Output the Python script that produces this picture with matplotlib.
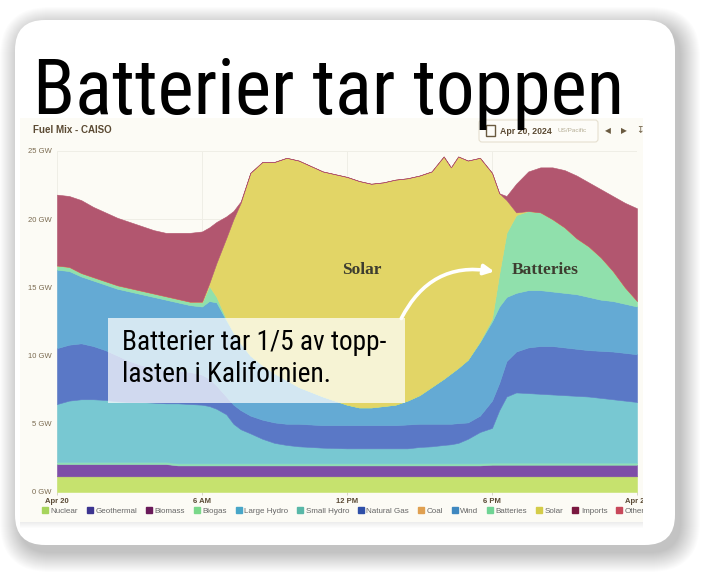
import os
import math
import matplotlib
matplotlib.use("Agg")
import matplotlib.pyplot as plt
from matplotlib import font_manager
from matplotlib.font_manager import FontProperties
from matplotlib.textpath import TextPath
from matplotlib.patches import FancyBboxPatch, Rectangle, FancyArrowPatch
from matplotlib.lines import Line2D
from matplotlib.transforms import Bbox, TransformedBbox

W, H = 710, 578

# hours after midnight, Apr 20 2024
hours = [0, 0.5, 1, 1.5, 2, 2.5, 3, 3.5, 4, 4.5, 5, 5.5, 6, 6.3, 6.6, 7, 7.3, 7.6,
         8, 8.5, 9, 9.5, 10, 11, 12, 12.5, 13, 13.5, 14, 14.5, 15, 15.5, 16, 16.3,
         16.6, 17, 17.5, 18, 18.3, 18.6, 19, 19.5, 20, 20.5, 21, 21.5, 22, 22.5,
         23, 23.5, 24]

# GW per source
nuclear = [1.15, 1.15, 1.15, 1.15, 1.15, 1.15, 1.15, 1.15, 1.15, 1.15, 1.15, 1.15, 1.15,
           1.15, 1.15, 1.15, 1.15, 1.15, 1.15, 1.15, 1.15, 1.15, 1.15, 1.15, 1.15, 1.15,
           1.15, 1.15, 1.15, 1.15, 1.15, 1.15, 1.15, 1.15, 1.15, 1.15, 1.15, 1.15, 1.15,
           1.15, 1.15, 1.15, 1.15, 1.15, 1.15, 1.15, 1.15, 1.15, 1.15, 1.15, 1.15]
geothermal = [0.9, 0.9, 0.9, 0.9, 0.9, 0.9, 0.9, 0.9, 0.9, 0.9, 0.8, 0.8, 0.8,
              0.8, 0.8, 0.8, 0.8, 0.8, 0.8, 0.8, 0.8, 0.8, 0.8, 0.8, 0.8, 0.8,
              0.8, 0.8, 0.8, 0.8, 0.8, 0.8, 0.8, 0.8, 0.8, 0.8, 0.8, 0.85, 0.85,
              0.85, 0.85, 0.85, 0.85, 0.85, 0.85, 0.85, 0.85, 0.85, 0.85, 0.85, 0.85]
biomass = [0.15, 0.15, 0.15, 0.15, 0.15, 0.15, 0.15, 0.15, 0.15, 0.15, 0.15, 0.15, 0.15,
           0.15, 0.15, 0.15, 0.15, 0.15, 0.15, 0.15, 0.15, 0.15, 0.15, 0.15, 0.15, 0.15,
           0.15, 0.15, 0.15, 0.15, 0.15, 0.15, 0.15, 0.15, 0.15, 0.15, 0.15, 0.15, 0.15,
           0.15, 0.15, 0.15, 0.15, 0.15, 0.15, 0.15, 0.15, 0.15, 0.15, 0.15, 0.15]
large_hydro = [4.25, 4.5, 4.6, 4.6, 4.55, 4.45, 4.4, 4.4, 4.35, 4.3, 4.4, 4.35, 4.3,
               4.2, 4.0, 3.6, 2.9, 2.5, 2.2, 1.8, 1.5, 1.35, 1.25, 1.15, 1.1, 1.1,
               1.1, 1.1, 1.1, 1.1, 1.2, 1.25, 1.35, 1.4, 1.5, 1.8, 2.3, 2.55, 3.85,
               4.85, 5.15, 5.1, 5.05, 5.0, 4.95, 4.9, 4.85, 4.75, 4.65, 4.55, 4.45]
natural_gas = [4.1, 4.1, 4.1, 3.9, 3.65, 3.35, 3.0, 2.7, 2.55, 2.5, 2.4, 2.35, 2.2,
               2.0, 1.7, 1.3, 1.4, 1.4, 1.3, 1.4, 1.5, 1.55, 1.65, 1.65, 1.7, 1.7,
               1.7, 1.7, 1.7, 1.75, 1.7, 1.65, 1.55, 1.5, 1.45, 1.2, 1.2, 2.0, 2.0,
               2.6, 3.0, 3.35, 3.5, 3.55, 3.5, 3.45, 3.4, 3.45, 3.5, 3.5, 3.5]
wind = [5.75, 5.4, 4.9, 4.8, 4.8, 4.9, 5.1, 5.2, 5.2, 5.1, 5.0, 4.9, 5.0,
        5.7, 6.1, 5.6, 5.3, 4.9, 4.4, 4.0, 3.6, 3.2, 2.7, 2.1, 1.5, 1.3,
        1.3, 1.4, 1.5, 1.75, 2.1, 2.7, 3.3, 3.7, 4.05, 4.6, 5.4, 5.8, 5.6,
        4.7, 4.3, 4.2, 4.1, 4.0, 4.0, 4.0, 3.9, 3.75, 3.7, 3.6, 3.5]
batteries = [0.3, 0.3, 0.25, 0.25, 0.25, 0.25, 0.25, 0.25, 0.25, 0.25, 0.25, 0.25, 0.3,
             1.1, 0.4, 0.1, 0.0, 0.0, 0.0, 0.0, 0.0, 0.0, 0.0, 0.0, 0.0, 0.0,
             0.0, 0.0, 0.0, 0.0, 0.0, 0.0, 0.0, 0.0, 0.0, 0.0, 0.05, 0.2, 2.4,
             4.7, 5.7, 5.8, 5.7, 5.3, 4.8, 4.1, 3.7, 3.1, 2.2, 1.2, 0.4]
solar = [0.0, 0.0, 0.0, 0.0, 0.0, 0.0, 0.0, 0.0, 0.0, 0.0, 0.0, 0.0, 0.05,
         0.2, 2.5, 5.9, 8.3, 10.3, 13.4, 14.9, 15.5, 16.3, 16.6, 16.5, 16.7, 16.6,
         16.4, 16.4, 16.5, 16.3, 16.1, 15.8, 16.3, 15.1, 15.5, 14.6, 13.45, 10.7, 5.9,
         2.4, 0.2, 0.0, 0.0, 0.0, 0.0, 0.0, 0.0, 0.0, 0.0, 0.0, 0.0]
imports = [5.2, 5.2, 5.35, 5.15, 5.05, 4.95, 4.85, 4.75, 4.65, 4.65, 4.85, 5.05, 5.15,
           4.1, 3.0, 1.6, 0.6, 0.1, 0.0, 0.0, 0.0, 0.0, 0.0, 0.0, 0.0, 0.0,
           0.0, 0.0, 0.0, 0.0, 0.0, 0.0, 0.0, 0.0, 0.0, 0.0, 0.0, 0.0, 0.0,
           0.3, 2.1, 2.9, 3.3, 3.8, 4.2, 4.6, 4.7, 5.0, 5.5, 6.2, 6.8]

area_colors = ["#c6e26e", "#7e4ea8", "#8fe0b4", "#78c8d2", "#5a78c6",
               "#64aad4", "#90e0ac", "#e2d566", "#b2566f"]

legend_names = ["Nuclear", "Geothermal", "Biomass", "Biogas", "Large Hydro",
                "Small Hydro", "Natural Gas", "Coal", "Wind", "Batteries",
                "Solar", "Imports", "Other"]
legend_colors = ["#a6d45c", "#3c3490", "#6a1a5a", "#7ad88a", "#48a6c8",
                 "#58b8a8", "#2f4fa8", "#e0a050", "#3f88c0", "#6fd494",
                 "#d4cc48", "#7a1840", "#c8485a"]

x_ticks = [0, 6, 12, 18, 24]
x_labels = ["Apr 20", "6 AM", "12 PM", "6 PM", "Apr 21"]
y_ticks = [0, 5, 10, 15, 20, 25]

TITLE = "Batterier tar toppen"
NOTE = ["Batterier tar 1/5 av topp-", "lasten i Kalifornien."]
SANS = ["Liberation Sans", "DejaVu Sans"]


def glyph_ratio(fp, text):
    w = TextPath((0, 0), text, size=100, prop=fp).get_extents().width
    h = TextPath((0, 0), "B", size=100, prop=fp).get_extents().height
    return w / h


def pick_font(text, target):
    # the original uses a condensed grotesque; take the installed face closest in shape
    ok_names = ("Noto Sans", "DejaVu Sans", "Liberation Sans", "Roboto", "Open Sans",
                "Lato", "Inter")
    best, best_score = FontProperties(family="DejaVu Sans"), None
    seen = set()
    for f in font_manager.fontManager.ttflist:
        base = os.path.basename(f.fname).lower()
        if f.fname in seen or not base.endswith((".ttf", ".otf")):
            continue
        seen.add(f.fname)
        if f.style != "normal" or "[" in base:
            continue
        wt = f.weight if isinstance(f.weight, int) else font_manager.weight_dict.get(f.weight, 400)
        if wt not in (400, 500):
            continue
        rest = None
        for n in ok_names:
            if f.name == n or f.name.startswith(n + " "):
                rest = f.name[len(n):].strip()
        if rest is None or rest not in ("", "Condensed", "ExtraCondensed", "SemiCondensed",
                                        "Narrow", "Display", "Display Condensed",
                                        "Display ExtraCondensed", "Display SemiCondensed"):
            continue
        try:
            fp = FontProperties(fname=f.fname)
            r = glyph_ratio(fp, text)
        except Exception:
            continue
        score = abs(math.log(r / target))
        if best_score is None or score < best_score:
            best, best_score = fp, score
    return best


narrow = pick_font(TITLE, 8.2)

fig = plt.figure(figsize=(W / 100, H / 100), dpi=100)
fig.patch.set_facecolor("white")
inch = fig.dpi_scale_trans


def box_px(x0, y0, x1, y1):
    # pixel box (top-left origin) -> inches (bottom-left origin)
    return x0 / 100, (H - y1) / 100, (x1 - x0) / 100, (y1 - y0) / 100


# card shadow + card
cx, cy, cw, ch = box_px(15, 20, 675, 545)
for i in range(20, 0, -1):
    e = i / 100
    fig.add_artist(FancyBboxPatch((cx - e + 0.05, cy - e - 0.07), cw + 2 * e, ch + 2 * e,
                                  boxstyle=f"round,pad=0,rounding_size={0.3 + e}",
                                  transform=inch, fc="black", ec="none",
                                  alpha=0.011, zorder=-6))
fig.add_artist(FancyBboxPatch((cx, cy), cw, ch, boxstyle="round,pad=0,rounding_size=0.3",
                              transform=inch, fc="white", ec="none", zorder=-5))

# screenshot background
sx, sy, sw, sh = box_px(20, 118, 643, 522)
for i in range(6, 0, -1):
    fig.add_artist(Rectangle((sx, sy - i / 100), sw, sh, transform=inch, fc="black",
                             ec="none", alpha=0.01, zorder=-4))
fig.add_artist(Rectangle((sx, sy), sw, sh, transform=inch, fc="#fcfbf5", ec="none", zorder=-3))
shot_clip = TransformedBbox(Bbox.from_bounds(sx, sy, sw, sh), inch)

# chart
ax = fig.add_axes([57 / W, (H - 492) / H, 580 / W, 341 / H])
ax.patch.set_alpha(0)
polys = ax.stackplot(hours, nuclear, geothermal, biomass, large_hydro, natural_gas,
                     wind, batteries, solar, imports, colors=area_colors)
for p in polys:
    p.set_edgecolor(p.get_facecolor())
    p.set_linewidth(0.4)
ax.set_xlim(0, 24)
ax.set_ylim(0, 25)
for s in ax.spines.values():
    s.set_visible(False)
ax.grid(color="#efeee6", lw=0.7)
ax.set_axisbelow(True)
ax.set_yticks(y_ticks)
ax.set_yticklabels([f"{v} GW" for v in y_ticks], family=SANS)
ax.set_xticks(x_ticks)
ax.set_xticklabels(x_labels, family=SANS, weight="bold")
ax.tick_params(axis="y", length=0, pad=4, labelsize=5.5, labelcolor="#7a6a50")
ax.tick_params(axis="x", length=2.5, width=0.6, color="#cfcdc0", pad=2,
               labelsize=5.5, labelcolor="#5a4a35")
for lbl in ax.get_xticklabels():
    lbl.set_clip_on(True)
    lbl.set_clip_box(shot_clip)

ax.text(12.6, 16.3, "Solar", family=["Liberation Serif", "DejaVu Serif"],
        weight="bold", size=12.5, color="#3d3d30", ha="center", va="center")
ax.text(20.2, 16.3, "Batteries", family=["Liberation Serif", "DejaVu Serif"],
        weight="bold", size=12.5, color="#3d3d30", ha="center", va="center")

# legend
handles = [Line2D([], [], marker="s", ls="", markersize=5, mfc=c, mec=c)
           for c in legend_colors]
leg = fig.legend(handles, legend_names, loc="center left",
                 bbox_to_anchor=(37 / W, 1 - 511 / H), borderaxespad=0,
                 ncol=13, frameon=False, prop={"family": SANS, "size": 5.8},
                 handletextpad=0.1, columnspacing=0.85, handlelength=1.2,
                 labelcolor="#666666")
for t in leg.get_texts():
    t.set_clip_on(True)
    t.set_clip_box(shot_clip)

# screenshot header
fig.text(33 / W, 1 - 130 / H, "Fuel Mix - CAISO", family=SANS, size=7, weight="bold",
         color="#5b4a33", va="center")
dx, dy, dw, dh = box_px(479, 120, 598, 142)
fig.add_artist(FancyBboxPatch((dx, dy), dw, dh, boxstyle="round,pad=0,rounding_size=0.03",
                              transform=inch, fc="#fdfcf8", ec="#e6e0d0", lw=0.8, zorder=2))
ix, iy, iw, ih = box_px(486, 125, 495, 136)
fig.add_artist(Rectangle((ix, iy), iw, ih, transform=inch, fc="none", ec="#6a5a40",
                         lw=1.0, zorder=3))
fig.text(500 / W, 1 - 131 / H, "Apr 20, 2024", family=SANS, size=6.3, weight="bold",
         color="#5b4a33", va="center", zorder=3)
fig.text(558 / W, 1 - 131 / H, "US/Pacific", family=SANS, size=4.6,
         color="#b5ad95", va="center", zorder=3)
fig.text(608 / W, 1 - 131 / H, "◀", family=["DejaVu Sans"], size=5.5, color="#6a5a40",
         ha="center", va="center")
fig.text(624 / W, 1 - 131 / H, "▶", family=["DejaVu Sans"], size=5.5, color="#6a5a40",
         ha="center", va="center")
fig.text(640 / W, 1 - 131 / H, "↧", family=["DejaVu Sans"], size=6.5, color="#6a5a40",
         ha="center", va="center")

# annotation box
bx, by, bw, bh = box_px(108, 318, 405, 403)
fig.add_artist(Rectangle((bx, by), bw, bh, transform=inch, fc="white", ec="none",
                         alpha=0.72, zorder=5))
note1 = fig.text(122 / W, 1 - 350 / H, NOTE[0], fontproperties=narrow, size=21.5,
                 color="black", va="baseline", zorder=6)
note2 = fig.text(122 / W, 1 - 382 / H, NOTE[1], fontproperties=narrow, size=21.5,
                 color="black", va="baseline", zorder=6)

fig.add_artist(FancyArrowPatch((400 / 100, (H - 321) / 100), (497 / 100, (H - 272) / 100),
                               transform=inch, connectionstyle="arc3,rad=-0.38",
                               arrowstyle="-|>", mutation_scale=15, lw=2.6,
                               color="white", zorder=7))

# title
title = fig.text(33 / W, 1 - 114 / H, TITLE, fontproperties=narrow, size=61,
                 color="black", va="baseline", zorder=10)

# size the condensed texts to the widths they take in the original
renderer = fig.canvas.get_renderer()
for txt, width_px in ((title, 592), (note1, 265)):
    w = txt.get_window_extent(renderer).width
    txt.set_fontsize(txt.get_fontsize() * width_px / w)
note2.set_fontsize(note1.get_fontsize())

fig.savefig("out.png", dpi=100, facecolor="white")
